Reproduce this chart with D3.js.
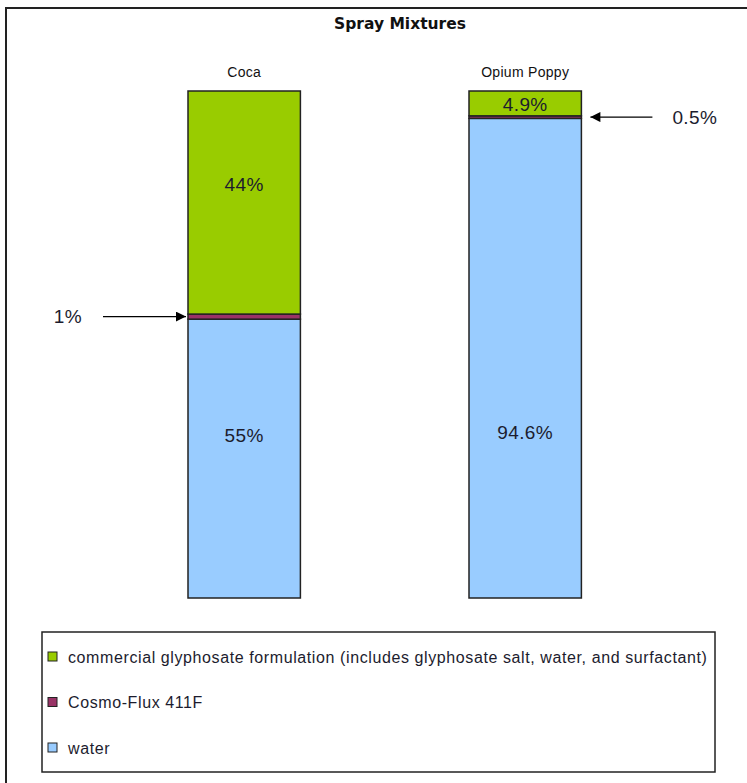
<!DOCTYPE html>
<html>
<head>
<meta charset="utf-8">
<script src="https://cdn.jsdelivr.net/npm/d3@7"></script>
<style>
  body { margin: 0; background: #fff; }
  svg { display: block; font-family: "Liberation Sans", Arial, sans-serif; }
</style>
</head>
<body>
<div id="chart"></div>
<script>
// chart data
const categories = ["Coca", "Opium Poppy"];
const seriesNames = [
    "water",
    "Cosmo-Flux 411F",
    "commercial glyphosate formulation (includes glyphosate salt, water, and surfactant)"
];
const waterValues = [55, 94.6];
const cosmoValues = [1, 0.5];
const glyphosateValues = [44, 4.9];
const seriesColors = ["#99ccff", "#993366", "#99cc00"];
// where the in-bar labels sit (in % of the bar)
const waterLabelAt = [32, 32.7];
const glyphosateLabelAt = [81.5, 97.4];
const calloutText = ["1%", "0.5%"];

function main() {
    const width = 747, height = 783;

    const svg = d3.select("#chart").append("svg")
        .attr("width", width)
        .attr("height", height);

    // outer frame (runs off the right and bottom edge)
    svg.append("rect")
        .attr("x", 6).attr("y", 8)
        .attr("width", 800).attr("height", 820)
        .attr("fill", "none")
        .attr("stroke", "#222")
        .attr("stroke-width", 2);

    svg.append("text")
        .attr("x", 400).attr("y", 29)
        .attr("text-anchor", "middle")
        .style("font-family", "'DejaVu Sans', sans-serif")
        .style("font-weight", "bold")
        .style("font-size", "15.5px")
        .attr("fill", "#111")
        .text("Spray Mixtures");

    const x = d3.scaleBand()
        .domain(categories)
        .range([188, 581.4])
        .paddingInner(0.6)
        .paddingOuter(0);

    const y = d3.scaleLinear()
        .domain([0, 100])
        .range([598, 91]);

    const rows = categories.map((c, i) => ({
        cat: c,
        water: waterValues[i],
        cosmo: cosmoValues[i],
        glyph: glyphosateValues[i]
    }));

    const stack = d3.stack().keys(["water", "cosmo", "glyph"]);
    const layers = stack(rows);

    const g = svg.append("g");

    g.selectAll("g.layer")
        .data(layers)
        .enter().append("g")
        .attr("class", "layer")
        .attr("fill", (d, i) => seriesColors[i])
        .selectAll("rect")
        .data(d => d)
        .enter().append("rect")
        .attr("x", d => x(d.data.cat))
        .attr("y", d => y(d[1]))
        .attr("width", x.bandwidth())
        .attr("height", d => y(d[0]) - y(d[1]))
        .attr("stroke", "#222")
        .attr("stroke-width", 1.5);

    // category names
    g.selectAll("text.cat")
        .data(categories)
        .enter().append("text")
        .attr("class", "cat")
        .attr("x", d => x(d) + x.bandwidth() / 2)
        .attr("y", y(100) - 14)
        .attr("text-anchor", "middle")
        .style("font-size", "14px")
        .style("letter-spacing", "0.3px")
        .attr("fill", "#111")
        .text(d => d);

    // labels inside bars
    const inLabels = [];
    categories.forEach((c, i) => {
        inLabels.push({ cat: c, at: waterLabelAt[i], text: waterValues[i] + "%" });
        inLabels.push({ cat: c, at: glyphosateLabelAt[i], text: glyphosateValues[i] + "%" });
    });
    g.selectAll("text.val")
        .data(inLabels)
        .enter().append("text")
        .attr("class", "val")
        .attr("x", d => x(d.cat) + x.bandwidth() / 2)
        .attr("y", d => y(d.at))
        .attr("dy", "0.35em")
        .attr("text-anchor", "middle")
        .style("font-size", "19px")
        .style("letter-spacing", "0.4px")
        .attr("fill", "#1c1c2e")
        .text(d => d.text);

    // arrow marker
    svg.append("defs").append("marker")
        .attr("id", "arr")
        .attr("viewBox", "0 0 10 10")
        .attr("refX", 10).attr("refY", 5)
        .attr("markerWidth", 12).attr("markerHeight", 10)
        .attr("markerUnits", "userSpaceOnUse")
        .attr("orient", "auto")
        .append("path")
        .attr("d", "M0,0L10,5L0,10Z")
        .attr("fill", "#000");

    // callouts for the thin Cosmo-Flux layer
    const cosmoLayer = layers[1];
    const callouts = cosmoLayer.map((d, i) => ({
        cat: d.data.cat,
        yv: (d[0] + d[1]) / 2,
        text: calloutText[i],
        left: i === 0
    }));

    callouts.forEach(c => {
        const yy = y(c.yv);
        const bx = x(c.cat);
        if (c.left) {
            svg.append("line")
                .attr("x1", bx - 85).attr("x2", bx - 2)
                .attr("y1", yy).attr("y2", yy)
                .attr("stroke", "#000").attr("stroke-width", 1.2)
                .attr("marker-end", "url(#arr)");
            svg.append("text")
                .attr("x", bx - 106).attr("y", yy)
                .attr("dy", "0.35em")
                .attr("text-anchor", "end")
                .style("font-size", "19px")
                .style("letter-spacing", "0.4px")
                .attr("fill", "#1c1c2e")
                .text(c.text);
        } else {
            const rx = bx + x.bandwidth();
            svg.append("line")
                .attr("x1", rx + 71).attr("x2", rx + 9)
                .attr("y1", yy).attr("y2", yy)
                .attr("stroke", "#000").attr("stroke-width", 1.2)
                .attr("marker-end", "url(#arr)");
            svg.append("text")
                .attr("x", rx + 91).attr("y", yy)
                .attr("dy", "0.35em")
                .attr("text-anchor", "start")
                .style("font-size", "19px")
                .style("letter-spacing", "0.4px")
                .attr("fill", "#1c1c2e")
                .text(c.text);
        }
    });

    // legend
    const legend = svg.append("g");
    legend.append("rect")
        .attr("x", 42).attr("y", 632)
        .attr("width", 673).attr("height", 140)
        .attr("fill", "#fff")
        .attr("stroke", "#222")
        .attr("stroke-width", 1.5);

    const legendOrder = [2, 1, 0];
    const ly = d3.scalePoint()
        .domain(legendOrder)
        .range([657, 748]);

    const items = legend.selectAll("g.item")
        .data(legendOrder)
        .enter().append("g")
        .attr("class", "item")
        .attr("transform", d => `translate(48,${ly(d)})`);

    items.append("rect")
        .attr("x", 0).attr("y", -5)
        .attr("width", 9).attr("height", 9)
        .attr("fill", d => seriesColors[d])
        .attr("stroke", "#222")
        .attr("stroke-width", 1);

    items.append("text")
        .attr("x", 20).attr("y", 0)
        .attr("dy", "0.35em")
        .style("font-size", "16px")
        .style("letter-spacing", "0.6px")
        .attr("fill", "#1c1c2e")
        .text(d => seriesNames[d]);
}
main();
</script>
</body>
</html>
